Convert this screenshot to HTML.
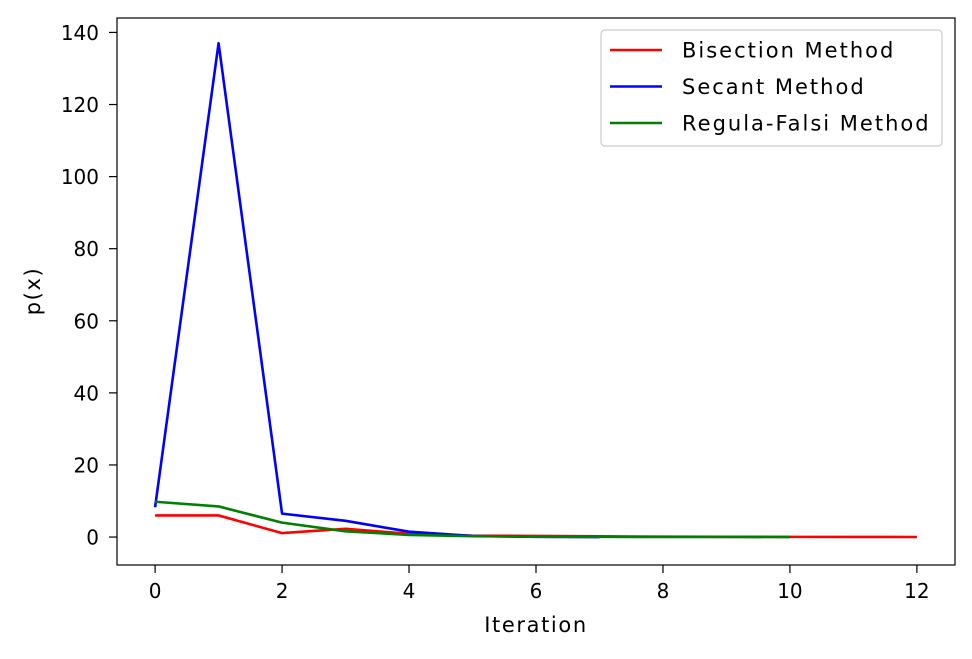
<!DOCTYPE html>
<html><head><meta charset="utf-8"><style>
body{margin:0;background:#fff;font-family:"DejaVu Sans","Liberation Sans",sans-serif}
</style></head><body>
<svg id="chart" width="972" height="655" xmlns="http://www.w3.org/2000/svg" font-family="DejaVu Sans, Liberation Sans, sans-serif"></svg>
<script>
const xTicks=[0,2,4,6,8,10,12];
const yTicks=[0,20,40,60,80,100,120,140];
const bisection=[6,6,1.1,2.3,0.9,0.4,0.3,0.2,0.12,0.08,0.05,0.03,0.02];
const secant=[8.3,137,6.5,4.5,1.5,0.3,0.05,0.01];
const regulaFalsi=[9.8,8.5,4,1.6,0.6,0.25,0.1,0.05,0.03,0.02,0.01];
const seriesNames=["Bisection Method","Secant Method","Regula-Falsi Method"];
const svg=document.getElementById('chart');
const NS="http://www.w3.org/2000/svg";
const L=117,R=955,T=18,B=565;
const xMin=-0.6,xMax=12.6,yMin=-7.75,yMax=144;
function xs(v){return L+(v-xMin)/(xMax-xMin)*(R-L);}
function ys(v){return B-(v-yMin)/(yMax-yMin)*(B-T);}
function mk(tag,attrs){const e=document.createElementNS(NS,tag);for(const k in attrs)e.setAttribute(k,attrs[k]);svg.appendChild(e);return e;}
xTicks.forEach(t=>{
 const l=mk('line',{x1:xs(t),x2:xs(t),y1:B,y2:B+8,stroke:'#000','stroke-width':1.2});
 
 
 const tx=mk('text',{x:xs(t),y:598,'text-anchor':'middle','font-size':20});
 tx.textContent=t;
 
 
});
yTicks.forEach(t=>{
 const l=mk('line',{x1:L-8,x2:L,y1:ys(t),y2:ys(t),stroke:'#000','stroke-width':1.2});
 
 
 const tx=mk('text',{x:99,y:ys(t)+7.5,'text-anchor':'end','font-size':20});
 tx.textContent=t;
 
 
});
const colors=['#ff0000','#0000ff','#008000'];
[bisection,secant,regulaFalsi].forEach((s,i)=>{
 const p=mk('polyline',{points:s.map((v,j)=>xs(j)+','+ys(v)).join(' '),fill:'none',stroke:colors[i],'stroke-width':2.6,'stroke-linejoin':'round'});
 
 
});
const frame=mk('rect',{x:L,y:T,width:R-L,height:B-T,fill:'none',stroke:'#000','stroke-width':1.2});


const xt=mk('text',{x:536,y:632,'text-anchor':'middle','font-size':21,'letter-spacing':1.6});
xt.textContent='Iteration';


const yt=mk('text',{x:40,y:291,'text-anchor':'middle','font-size':21,'letter-spacing':1.6,transform:'rotate(-90 40 291)'});
yt.textContent='p(x)';


const lg=mk('rect',{x:601,y:30,width:341,height:116,rx:4,fill:'#fff',stroke:'#ccc','stroke-width':1.2});


seriesNames.forEach((n,i)=>{
 const y=50+i*36.5;
 const l=mk('line',{x1:610,x2:662,y1:y,y2:y,stroke:colors[i],'stroke-width':2.6});
 
 
 const t=mk('text',{x:682,y:y+7.5,'font-size':21,'letter-spacing':2});
 t.textContent=n;
 
 
});
</script>
</body></html>
